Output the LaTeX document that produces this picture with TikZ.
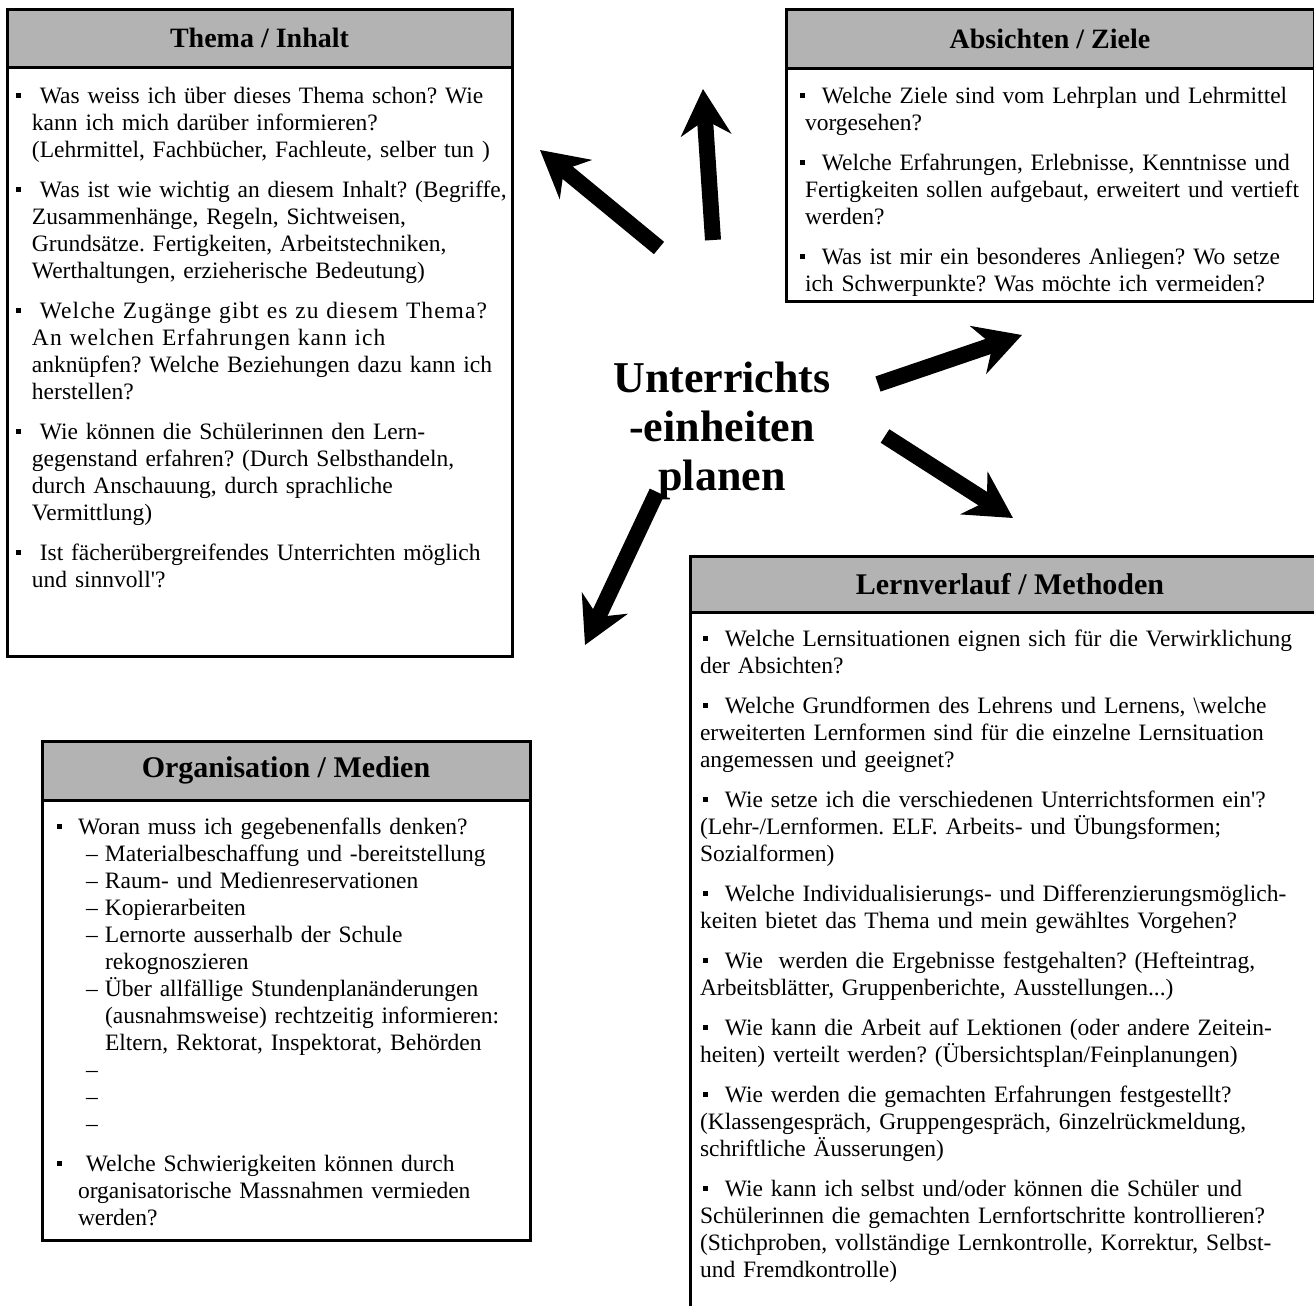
\documentclass[tikz,border=0pt]{standalone}
\usepackage{fontspec}
\setmainfont{Liberation Serif}[Ligatures=TeXOff]
\usetikzlibrary{arrows.meta,positioning}
\definecolor{hdgray}{RGB}{179,179,179}
\frenchspacing
\hyphenpenalty=10000
\newlength{\qlead}
\newcommand{\qbullet}{\rule[2.8pt]{2.3pt}{2.3pt}}
% bullet item: optional shift of the bullet against the text edge
\newcommand{\qitem}[2][0pt]{\noindent\hspace*{#1}\makebox[\qlead][l]{\qbullet}#2\par}
\newcommand{\qsub}[1]{\hangindent=13.5pt\hangafter=1\noindent\hspace*{4pt}\makebox[9.5pt][l]{–}#1\par}
\newcommand{\qspread}[1]{{\addfontfeature{LetterSpace=4.5}#1}}

\begin{document}
\begin{tikzpicture}[
  x=0.5pt, y=-0.5pt,
  hdbox/.style={draw,line width=1.5pt,fill=hdgray,anchor=north west,inner sep=0pt,outer sep=0pt,
    font=\fontsize{14}{16}\selectfont\bfseries},
  panel/.style={draw,line width=1.5pt,fill=white,inner sep=0pt,outer sep=0pt},
  qtext/.style={inner sep=0pt,outer sep=0pt,align=left,anchor=north west,
    font=\fontsize{11.75}{13.5}\selectfont,
    execute at begin node={\setlength{\parskip}{#1}\lineskiplimit=-20pt}},
  qtext/.default=6.5pt,
  hub/.style={align=center,font=\fontsize{22}{24.5}\selectfont\bfseries},
  bigarrow/.style={line width=8pt,-{Stealth[length=23pt,width=25pt,inset=7.5pt]}}
]
  \useasboundingbox (0,0) rectangle (1314,1306);
  \clip (0,0) rectangle (1314,1306);

  % Thema / Inhalt
  \node[hdbox,minimum width=252.5pt,minimum height=29pt] (thema-head) at (7,9) {Thema / Inhalt};
  \node[panel,minimum width=252.5pt,minimum height=294.5pt,below=0pt of thema-head] (thema-box) {};
  \node[qtext,text width=250pt,below right=10pt and 12.5pt of thema-box.north west] (thema-text) {%
    \setlength{\qlead}{8pt}%
    \qitem[-8pt]{\ Was weiss ich über dieses Thema schon? Wie\newline kann ich mich darüber informieren?\newline (Lehrmittel, Fachbücher, Fachleute, selber tun )}
    \qitem[-8pt]{\ Was ist wie wichtig an diesem Inhalt? (Begriffe,\newline Zusammenhänge, Regeln, Sichtweisen,\newline Grundsätze. Fertigkeiten, Arbeitstechniken,\newline Werthaltungen, erzieherische Bedeutung)}
    \qitem[-8pt]{\ \qspread{Welche Zugänge gibt es zu diesem Thema?}\newline \qspread{An welchen Erfahrungen kann ich}\newline anknüpfen? Welche Beziehungen dazu kann ich\newline herstellen?}
    \qitem[-8pt]{\ Wie können die Schülerinnen den Lern-\newline gegenstand erfahren? (Durch Selbsthandeln,\newline durch Anschauung, durch sprachliche\newline Vermittlung)}
    \qitem[-8pt]{\ Ist fächerübergreifendes Unterrichten möglich\newline und sinnvoll'?}};

  % Absichten / Ziele
  \node[hdbox,minimum width=264pt,minimum height=29.5pt] (ziele-head) at (786,9) {Absichten / Ziele};
  \node[panel,minimum width=264pt,minimum height=116.5pt,below=0pt of ziele-head] (ziele-box) {};
  \node[qtext,text width=252pt,below right=9.5pt and 9.5pt of ziele-box.north west] (ziele-text) {%
    \setlength{\qlead}{7pt}%
    \qitem[-2.5pt]{\ Welche Ziele sind vom Lehrplan und Lehrmittel\newline vorgesehen?}
    \qitem[-2.5pt]{\ Welche Erfahrungen, Erlebnisse, Kenntnisse und\newline Fertigkeiten sollen aufgebaut, erweitert und vertieft\newline werden?}
    \qitem[-2.5pt]{\ Was ist mir ein besonderes Anliegen? Wo setze\newline ich Schwerpunkte? Was möchte ich vermeiden?}};

  % Organisation / Medien
  \node[hdbox,minimum width=244pt,minimum height=29.5pt,font=\fontsize{15}{17}\selectfont\bfseries] (org-head) at (42,741) {Organisation / Medien};
  \node[panel,minimum width=244pt,minimum height=220pt,below=0pt of org-head] (org-box) {};
  \node[qtext=0pt,text width=225pt,below right=9pt and 18pt of org-box.north west] (org-text) {%
    \setlength{\qlead}{10.5pt}%
    \qitem[-10.5pt]{Woran muss ich gegebenenfalls denken?}
    \qsub{Materialbeschaffung und -bereitstellung}
    \qsub{Raum- und Medienreservationen}
    \qsub{Kopierarbeiten}
    \qsub{Lernorte ausserhalb der Schule\newline rekognoszieren}
    \qsub{Über allfällige Stundenplanänderungen\newline (ausnahmsweise) rechtzeitig informieren:\newline Eltern, Rektorat, Inspektorat, Behörden}
    \qsub{}
    \qsub{}
    \qsub{}
    \vspace{6.5pt}
    \qitem[-10.5pt]{\ Welche Schwierigkeiten können durch\newline organisatorische Massnahmen vermieden\newline werden?}};

  % Lernverlauf / Methoden
  \node[hdbox,minimum width=320pt,minimum height=28pt,font=\fontsize{15}{17}\selectfont\bfseries] (lern-head) at (690,556) {Lernverlauf / Methoden};
  \node[panel,minimum width=320pt,minimum height=400pt,below=0pt of lern-head] (lern-box) {};
  \node[qtext,text width=304pt,below right=9pt and 5pt of lern-box.north west] (lern-text) {%
    \setlength{\qlead}{7pt}%
    \qitem[1.5pt]{\ Welche Lernsituationen eignen sich für die Verwirklichung\newline der Absichten?}
    \qitem[1.5pt]{\ Welche Grundformen des Lehrens und Lernens, \textbackslash welche\newline erweiterten Lernformen sind für die einzelne Lernsituation\newline angemessen und geeignet?}
    \qitem[1.5pt]{\ Wie setze ich die verschiedenen Unterrichtsformen ein'?\newline (Lehr-/Lernformen. ELF. Arbeits- und Übungsformen;\newline Sozialformen)}
    \qitem[1.5pt]{\ Welche Individualisierungs- und Differenzierungsmöglich-\newline keiten bietet das Thema und mein gewähltes Vorgehen?}
    \qitem[1.5pt]{\ Wie\ \ werden die Ergebnisse festgehalten? (Hefteintrag,\newline Arbeitsblätter, Gruppenberichte, Ausstellungen...)}
    \qitem[1.5pt]{\ Wie kann die Arbeit auf Lektionen (oder andere Zeitein-\newline heiten) verteilt werden? (Übersichtsplan/Feinplanungen)}
    \qitem[1.5pt]{\ Wie werden die gemachten Erfahrungen festgestellt?\newline (Klassengespräch, Gruppengespräch, 6inzelrückmeldung,\newline schriftliche Äusserungen)}
    \qitem[1.5pt]{\ Wie kann ich selbst und/oder können die Schüler und\newline Schülerinnen die gemachten Lernfortschritte kontrollieren?\newline (Stichproben, vollständige Lernkontrolle, Korrektur, Selbst-\newline und Fremdkontrolle)}};

  % centre
  \node[hub] (hub) at (722,431) {Unterrichts\\-einheiten\\planen};

  % arrows
  \coordinate (thema-tail) at (659,248);
  \coordinate (thema-tip) at (540,150);
  \coordinate (up-tail) at (713,240);
  \coordinate (up-tip) at (703,89);
  \coordinate (ziele-tail) at (878,384);
  \coordinate (ziele-tip) at (1022,335);
  \coordinate (lern-tail) at (885,436);
  \coordinate (lern-tip) at (1013,518);
  \coordinate (org-tail) at (657,492);
  \coordinate (org-tip) at (585,645);
  \draw[bigarrow] (thema-tail) -- (thema-tip);
  \draw[bigarrow] (up-tail) -- (up-tip);
  \draw[bigarrow] (ziele-tail) -- (ziele-tip);
  \draw[bigarrow] (lern-tail) -- (lern-tip);
  \draw[bigarrow] (org-tail) -- (org-tip);
\end{tikzpicture}
\end{document}
